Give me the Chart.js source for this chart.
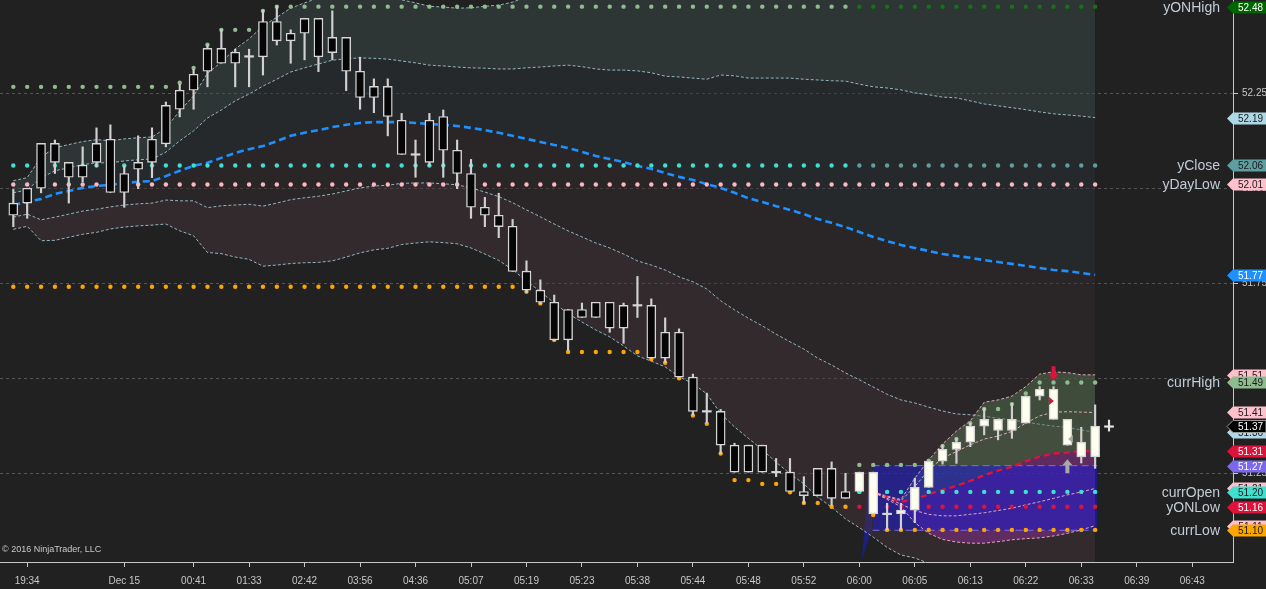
<!DOCTYPE html>
<html>
<head>
<meta charset="utf-8">
<script src="https://cdn.jsdelivr.net/npm/chart.js@4.4.1/dist/chart.umd.min.js"></script>
<style>
  html, body { margin: 0; padding: 0; background: #212121; }
  #wrap { width: 1266px; height: 589px; }
</style>
</head>
<body>
<div id="wrap"><canvas id="chartCL" width="1266" height="589"></canvas></div>
<script>
// --- axes ---
const xTickIdx = [1, 8, 13, 17, 21, 25, 29, 33, 37, 41, 45, 49, 53, 57, 61, 65, 69, 73, 77, 81, 85];
const xTickLbl = ['19:34', 'Dec 15', '00:41', '01:33', '02:42', '03:56', '04:36', '05:07', '05:19', '05:23',
  '05:38', '05:44', '05:48', '05:52', '06:00', '06:05', '06:13', '06:22', '06:33', '06:39', '06:43'];
const yTicks = [51.25, 51.50, 51.75, 52.00, 52.25];

// --- bars (one per index) ---
const barOpen = [51.929, 51.961, 52.000, 52.118, 52.068, 52.029, 52.068, 52.129, 51.989, 52.050,
  52.068, 52.117, 52.208, 52.258, 52.308, 52.368, 52.329, 52.347, 52.346, 52.439,
  52.388, 52.408, 52.447, 52.357, 52.397, 52.308, 52.239, 52.268, 52.179, 52.089,
  52.068, 52.189, 52.100, 52.039, 51.950, 51.929, 51.900, 51.782, 51.732, 51.700,
  51.601, 51.681, 51.660, 51.700, 51.632, 51.692, 51.692, 51.553, 51.621, 51.503,
  51.413, 51.413, 51.324, 51.253, 51.324, 51.253, 51.253, 51.202, 51.191, 51.263,
  51.184, 51.202, 51.253, 51.143, 51.143, 51.153, 51.213, 51.282, 51.313, 51.332,
  51.374, 51.392, 51.363, 51.382, 51.453, 51.471, 51.392, 51.293, 51.293];
const barHigh = [51.997, 52.000, 52.118, 52.127, 52.068, 52.109, 52.159, 52.167, 52.059, 52.138,
  52.159, 52.227, 52.274, 52.313, 52.377, 52.418, 52.366, 52.366, 52.469, 52.480,
  52.417, 52.447, 52.447, 52.467, 52.397, 52.345, 52.288, 52.288, 52.197, 52.127,
  52.197, 52.206, 52.127, 52.076, 51.976, 51.987, 51.918, 51.809, 51.759, 51.719,
  51.681, 51.698, 51.700, 51.700, 51.698, 51.768, 51.709, 51.659, 51.630, 51.511,
  51.461, 51.418, 51.329, 51.324, 51.324, 51.289, 51.289, 51.241, 51.263, 51.280,
  51.250, 51.253, 51.253, 51.171, 51.171, 51.237, 51.282, 51.324, 51.342, 51.382,
  51.421, 51.392, 51.434, 51.453, 51.478, 51.478, 51.392, 51.371, 51.430];
const barLow = [51.899, 51.921, 51.988, 52.039, 51.961, 52.017, 52.057, 51.989, 51.950, 51.999,
  52.028, 52.109, 52.188, 52.208, 52.267, 52.329, 52.267, 52.267, 52.298, 52.377,
  52.329, 52.338, 52.307, 52.338, 52.257, 52.208, 52.199, 52.138, 52.089, 52.029,
  52.059, 52.029, 51.999, 51.921, 51.899, 51.870, 51.781, 51.725, 51.696, 51.599,
  51.573, 51.660, 51.660, 51.621, 51.592, 51.660, 51.553, 51.542, 51.503, 51.403,
  51.382, 51.302, 51.253, 51.253, 51.253, 51.241, 51.202, 51.171, 51.191, 51.166,
  51.184, 51.202, 51.143, 51.101, 51.101, 51.120, 51.213, 51.274, 51.276, 51.320,
  51.351, 51.338, 51.342, 51.382, 51.443, 51.392, 51.324, 51.277, 51.263];
const barClose = [51.961, 52.000, 52.118, 52.068, 52.029, 52.061, 52.118, 51.989, 52.039, 52.068,
  52.129, 52.218, 52.258, 52.300, 52.368, 52.329, 52.358, 52.347, 52.439, 52.388,
  52.408, 52.447, 52.346, 52.397, 52.308, 52.239, 52.268, 52.189, 52.089, 52.089,
  52.179, 52.100, 52.039, 51.950, 51.929, 51.899, 51.781, 51.732, 51.700, 51.601,
  51.681, 51.660, 51.700, 51.632, 51.692, 51.692, 51.553, 51.621, 51.503, 51.413,
  51.413, 51.324, 51.253, 51.324, 51.253, 51.253, 51.202, 51.191, 51.263, 51.184,
  51.202, 51.253, 51.143, 51.143, 51.153, 51.213, 51.282, 51.313, 51.332, 51.374,
  51.392, 51.363, 51.392, 51.453, 51.471, 51.392, 51.324, 51.332, 51.374];
const sessionStart = 61;            // 06:00 bar, new session
const lastTick = { bar: 79, price: 51.373, hi: 51.390, lo: 51.361 };

// --- bollinger style bands ---
const bbUpper2 = [52.020, 52.028, 52.082, 52.107, 52.115, 52.123, 52.128, 52.125, 52.130, 52.133,
  52.135, 52.158, 52.204, 52.243, 52.303, 52.332, 52.367, 52.393, 52.427, 52.450,
  52.474, 52.488, 52.501, 52.513, 52.515, 52.514, 52.510, 52.506, 52.496, 52.488,
  52.479, 52.477, 52.474, 52.475, 52.479, 52.482, 52.490, 52.504, 52.516, 52.530,
  52.542, 52.544, 52.543, 52.545, 52.553, 52.559, 52.557, 52.550, 52.556, 52.558,
  52.563, 52.595, 52.604, 52.606, 52.616, 52.627, 52.637, 52.642, 52.651, 52.657,
  52.666, 52.663, 52.662, 52.667, 52.667, 52.659, 52.657, 52.653, 52.654, 52.643,
  52.633, 52.628, 52.623, 52.618, 52.612, 52.607, 52.604, 52.599, 52.600];
const bbUpper1 = [51.988, 51.996, 52.027, 52.046, 52.054, 52.062, 52.067, 52.067, 52.072, 52.075,
  52.077, 52.095, 52.125, 52.151, 52.185, 52.206, 52.230, 52.248, 52.269, 52.287,
  52.306, 52.317, 52.327, 52.337, 52.341, 52.343, 52.342, 52.340, 52.335, 52.330,
  52.324, 52.322, 52.319, 52.317, 52.316, 52.314, 52.314, 52.317, 52.319, 52.322,
  52.324, 52.320, 52.314, 52.311, 52.311, 52.309, 52.304, 52.295, 52.293, 52.290,
  52.287, 52.298, 52.296, 52.290, 52.290, 52.290, 52.290, 52.287, 52.285, 52.283,
  52.282, 52.274, 52.267, 52.264, 52.259, 52.251, 52.246, 52.240, 52.238, 52.230,
  52.222, 52.217, 52.212, 52.207, 52.201, 52.196, 52.193, 52.190, 52.186];
const bbMid = [51.956, 51.964, 51.972, 51.985, 51.993, 52.001, 52.006, 52.009, 52.014, 52.017,
  52.019, 52.032, 52.046, 52.059, 52.067, 52.080, 52.093, 52.103, 52.111, 52.124,
  52.138, 52.146, 52.153, 52.161, 52.167, 52.172, 52.174, 52.174, 52.174, 52.172,
  52.169, 52.167, 52.164, 52.159, 52.153, 52.146, 52.138, 52.130, 52.122, 52.114,
  52.106, 52.096, 52.085, 52.077, 52.069, 52.059, 52.051, 52.040, 52.030, 52.022,
  52.011, 52.001, 51.988, 51.974, 51.964, 51.953, 51.943, 51.932, 51.919, 51.909,
  51.898, 51.885, 51.872, 51.861, 51.851, 51.843, 51.835, 51.827, 51.822, 51.817,
  51.811, 51.806, 51.801, 51.796, 51.790, 51.785, 51.782, 51.777, 51.772];
const bbLower1 = [51.924, 51.932, 51.917, 51.924, 51.932, 51.940, 51.945, 51.951, 51.956, 51.959,
  51.961, 51.969, 51.967, 51.967, 51.949, 51.954, 51.956, 51.958, 51.953, 51.961,
  51.970, 51.975, 51.979, 51.985, 51.993, 52.001, 52.006, 52.008, 52.013, 52.014,
  52.014, 52.012, 52.009, 52.001, 51.990, 51.978, 51.962, 51.943, 51.925, 51.906,
  51.888, 51.872, 51.856, 51.843, 51.827, 51.809, 51.798, 51.785, 51.767, 51.754,
  51.735, 51.704, 51.680, 51.658, 51.638, 51.616, 51.596, 51.577, 51.553, 51.535,
  51.514, 51.496, 51.477, 51.458, 51.443, 51.435, 51.424, 51.414, 51.406, 51.404,
  51.400, 51.395, 51.390, 51.385, 51.379, 51.374, 51.371, 51.364, 51.358];
const bbLower2 = [51.892, 51.900, 51.862, 51.863, 51.871, 51.879, 51.884, 51.893, 51.898, 51.901,
  51.903, 51.906, 51.888, 51.875, 51.831, 51.828, 51.819, 51.813, 51.795, 51.798,
  51.802, 51.804, 51.805, 51.809, 51.819, 51.830, 51.838, 51.842, 51.852, 51.856,
  51.859, 51.857, 51.854, 51.843, 51.827, 51.810, 51.786, 51.756, 51.728, 51.698,
  51.670, 51.648, 51.627, 51.609, 51.585, 51.559, 51.545, 51.530, 51.504, 51.486,
  51.459, 51.407, 51.372, 51.342, 51.312, 51.279, 51.249, 51.222, 51.187, 51.161,
  51.130, 51.107, 51.082, 51.055, 51.035, 51.027, 51.013, 51.001, 50.990, 50.991,
  50.989, 50.984, 50.979, 50.974, 50.968, 50.963, 50.960, 50.955, 50.950];

// --- session bands (start at bar 62) ---
const devStart = 62;
const devUpper2 = [51.201, 51.190, 51.181, 51.237, 51.285, 51.327, 51.361, 51.388, 51.437, 51.443,
  51.453, 51.478, 51.511, 51.517, 51.515, 51.509, 51.509];
const devUpper1 = [51.201, 51.188, 51.178, 51.215, 51.259, 51.290, 51.307, 51.325, 51.340, 51.348,
  51.360, 51.382, 51.401, 51.411, 51.412, 51.411, 51.410];
const vwapLine = [51.201, 51.187, 51.175, 51.181, 51.195, 51.206, 51.217, 51.230, 51.245, 51.257,
  51.267, 51.282, 51.294, 51.302, 51.305, 51.308, 51.309];
const devLower1 = [51.201, 51.184, 51.169, 51.152, 51.142, 51.138, 51.138, 51.142, 51.146, 51.152,
  51.158, 51.167, 51.175, 51.184, 51.193, 51.201, 51.210];
const devLower2 = [51.201, 51.181, 51.162, 51.120, 51.092, 51.076, 51.069, 51.066, 51.066, 51.070,
  51.075, 51.078, 51.080, 51.085, 51.092, 51.101, 51.112];

// opening range box
const orHigh = 51.27, orLow = 51.10;
const orFrom = 61.95, orTo = 78.15;
const orWedge = [[61.17, 51.022], [61.69, 51.253], [61.91, 51.272], [61.91, 51.101]];

// --- level dots: [fromBar, toBar, price] ---
const runHighSteps = [[0, 11, 52.267], [12, 12, 52.278], [13, 13, 52.317], [14, 14, 52.378],
  [15, 17, 52.417], [18, 18, 52.467], [19, 60, 52.478]];
const yONHighSteps = [[61, 78, 52.478]];
const yCloseEarly = [[0, 60, 52.06]];
const yCloseLate = [[61, 78, 52.06]];
const yDayLowSteps = [[0, 78, 52.01]];
const runLowSteps = [[0, 36, 51.741], [37, 37, 51.728], [38, 38, 51.697], [39, 39, 51.601],
  [40, 45, 51.569], [46, 46, 51.550], [47, 47, 51.541], [48, 48, 51.500], [49, 49, 51.402],
  [50, 50, 51.380], [51, 51, 51.302], [52, 53, 51.232], [54, 55, 51.222], [56, 56, 51.200],
  [57, 58, 51.172], [59, 60, 51.162], [61, 61, 51.202], [62, 62, 51.140], [63, 78, 51.101]];
const currHighSteps = [[61, 65, 51.272], [66, 66, 51.283], [67, 67, 51.322], [68, 68, 51.340],
  [69, 69, 51.382], [70, 71, 51.419], [72, 72, 51.432], [73, 73, 51.460], [74, 78, 51.489]];
const currOpenSteps = [[61, 78, 51.201]];
const yONLowSteps = [[61, 78, 51.162]];

const levelNames = ['yONHigh', 'yClose', 'yDayLow', 'currHigh', 'currOpen', 'yONLow', 'currLow'];
const levelValues = [52.478, 52.06, 52.01, 51.489, 51.201, 51.162, 51.101];

// trade markers
const tradeMarks = [
  { bar: 75, price: 51.495, kind: 'down', color: '#dc143c' },
  { bar: 75, price: 51.440, kind: 'right', color: '#dc143c' },
  { bar: 76, price: 51.340, kind: 'left', color: '#a8a8a8' },
  { bar: 76, price: 51.287, kind: 'up', color: '#a8a8a8' }
];

// ---------------------------------------------------------------
function pts(start, arr) {
  return arr.map((v, k) => ({ x: start + k, y: v }));
}
function stepDots(steps) {
  const out = [];
  steps.forEach(([a, b, v]) => { for (let i = a; i <= b; i++) out.push({ x: i, y: v }); });
  return out;
}
function lineSet(data, color, width, dash, fill, bg) {
  return {
    type: 'line', data: data, borderColor: color, borderWidth: width, borderDash: dash || [],
    pointRadius: 0, tension: 0, fill: fill === undefined ? false : fill,
    backgroundColor: bg || 'transparent'
  };
}
function dotSet(steps, color) {
  return {
    type: 'line', data: stepDots(steps), showLine: false, pointRadius: 2.2, pointHoverRadius: 0,
    pointBackgroundColor: color, pointBorderWidth: 0, borderColor: color
  };
}

const bars = barOpen.map((_, i) => i);
const bodyIdx = bars.filter(i => barOpen[i] !== barClose[i]);
const dojiIdx = bars.filter(i => barOpen[i] === barClose[i]);

const lightBand = 'rgba(173,216,230,0.8)';
const pinkBand = 'rgba(240,180,200,0.9)';

const datasets = [
  // 0-3 band fills
  lineSet(pts(0, bbUpper2), 'transparent', 0, [], 5, 'rgba(59,73,73,0.5)'),
  lineSet(pts(0, bbUpper1), 'transparent', 0, [], 6, 'rgba(41,49,53,0.5)'),
  lineSet(pts(0, bbMid), 'transparent', 0, [], 7, 'rgba(51,41,45,0.5)'),
  lineSet(pts(0, bbLower1), 'transparent', 0, [], 8, 'rgba(69,51,59,0.5)'),
  // 4-8 band lines
  lineSet(pts(0, bbUpper2), lightBand, 1, [3, 2]),
  lineSet(pts(0, bbUpper1), lightBand, 1, [3, 2]),
  lineSet(pts(0, bbMid), '#1e90ff', 2.6, [7, 4]),
  lineSet(pts(0, bbLower1), lightBand, 1, [3, 2]),
  lineSet(pts(0, bbLower2), lightBand, 1, [3, 2]),
  // 9-10 session band fills
  lineSet(pts(devStart, devUpper2), 'transparent', 0, [], 14, 'rgba(84,113,79,0.5)'),
  lineSet(pts(devStart, vwapLine), 'transparent', 0, [], 16, 'rgba(140,45,150,0.5)'),
  // 11-12 opening range box
  lineSet([{ x: orFrom, y: orHigh }, { x: orTo, y: orHigh }], '#7b68ee', 1, [7, 4], 12, 'rgba(27,27,208,0.55)'),
  lineSet([{ x: orFrom, y: orLow }, { x: orTo, y: orLow }], '#7b68ee', 1, [7, 4]),
  // 13-17 session band lines
  lineSet(pts(devStart, devUpper2), pinkBand, 1, [3, 2]),
  lineSet(pts(devStart, vwapLine), '#dc143c', 2.4, [6, 4]),
  lineSet(pts(devStart, devUpper1), pinkBand, 1, [3, 2]),
  lineSet(pts(devStart, devLower2), pinkBand, 1, [3, 2]),
  lineSet(pts(devStart, devLower1), pinkBand, 1, [3, 2]),
  // level dots
  dotSet(runHighSteps, '#8fbc8f'),
  dotSet(yONHighSteps, '#147314'),
  dotSet(yCloseEarly, '#40e0d0'),
  dotSet(yCloseLate, '#5f9ea0'),
  dotSet(yDayLowSteps, '#ffb6c1'),
  dotSet(runLowSteps, '#ffa500'),
  dotSet(currHighSteps, '#8fbc8f'),
  dotSet(currOpenSteps, '#40e0d0'),
  dotSet(yONLowSteps, '#dc143c'),
  // candles
  {
    type: 'bar', grouped: false, barThickness: 1.5, backgroundColor: '#d0d0d0', borderWidth: 0,
    data: bars.map(i => ({ x: i, y: [barLow[i], barHigh[i]] }))
  },
  {
    type: 'bar', grouped: false, barThickness: 9, borderWidth: 1.4, borderColor: '#d6d6d6',
    borderSkipped: false,
    backgroundColor: bodyIdx.map(i => i >= sessionStart ? '#fffff0' : '#060606'),
    data: bodyIdx.map(i => ({ x: i, y: [Math.min(barOpen[i], barClose[i]), Math.max(barOpen[i], barClose[i])] }))
  },
  {
    type: 'bar', grouped: false, barThickness: 9, backgroundColor: '#d6d6d6', borderWidth: 0,
    data: dojiIdx.map(i => ({ x: i, y: [barOpen[i] - 0.002, barOpen[i] + 0.002] }))
  },
  {
    type: 'bar', grouped: false, barThickness: 1.5, backgroundColor: '#e6e6e6', borderWidth: 0,
    data: [{ x: lastTick.bar, y: [lastTick.lo, lastTick.hi] }]
  },
  {
    type: 'bar', grouped: false, barThickness: 9, backgroundColor: '#e6e6e6', borderWidth: 0,
    data: [{ x: lastTick.bar, y: [lastTick.price - 0.002, lastTick.price + 0.002] }]
  }
];
// first in list = bottom of the stack
datasets.forEach((d, i) => { d.order = datasets.length - i; });

const last = a => a[a.length - 1];
const flagList = [
  { v: last(devUpper2), bg: '#ffc0cb', fg: '#1a1a1a' },
  { v: last(devUpper1), bg: '#ffc0cb', fg: '#1a1a1a' },
  { v: last(devLower1), bg: '#ffc0cb', fg: '#1a1a1a' },
  { v: last(devLower2), bg: '#ffc0cb', fg: '#1a1a1a' },
  { v: last(bbLower1), bg: '#add8e6', fg: '#1a1a1a' },
  { v: last(bbUpper1), bg: '#add8e6', fg: '#1a1a1a' },
  { v: last(bbMid), bg: '#1e90ff', fg: '#ffffff' },
  { v: last(vwapLine), bg: '#dc143c', fg: '#ffffff' },
  { v: orHigh, bg: '#7b68ee', fg: '#ffffff' },
  { v: levelValues[0], bg: '#006400', fg: '#ffffff' },
  { v: levelValues[1], bg: '#5f9ea0', fg: '#1a1a1a' },
  { v: levelValues[2], bg: '#ffc0cb', fg: '#1a1a1a' },
  { v: levelValues[3], bg: '#8fbc8f', fg: '#1a1a1a' },
  { v: levelValues[4], bg: '#40e0d0', fg: '#1a1a1a' },
  { v: levelValues[5], bg: '#dc143c', fg: '#ffffff' },
  { v: levelValues[6], bg: '#ffa500', fg: '#1a1a1a' },
  { v: last(barClose), bg: '#000000', fg: '#ffffff', border: '#9a9a9a' }
];

const chartPlugin = {
  id: 'ntExtras',
  beforeDraw(chart) {
    const ctx = chart.ctx;
    ctx.save();
    ctx.fillStyle = '#212121';
    ctx.fillRect(0, 0, chart.width, chart.height);
    ctx.restore();
  },
  beforeDatasetsDraw(chart) {
    const { ctx, scales: { x, y } } = chart;
    ctx.save();
    ctx.fillStyle = '#1e1e7c';
    ctx.beginPath();
    orWedge.forEach(([bx, p], k) => {
      const px = x.getPixelForValue(bx), py = y.getPixelForValue(p);
      if (k === 0) ctx.moveTo(px, py); else ctx.lineTo(px, py);
    });
    ctx.closePath();
    ctx.fill();
    ctx.restore();
  },
  afterDatasetsDraw(chart) {
    const { ctx, scales: { x, y } } = chart;
    ctx.save();
    tradeMarks.forEach(m => {
      const cx = x.getPixelForValue(m.bar), py = y.getPixelForValue(m.price);
      ctx.fillStyle = m.color;
      ctx.beginPath();
      if (m.kind === 'down' || m.kind === 'up') {
        const d = m.kind === 'down' ? 1 : -1;
        ctx.moveTo(cx, py);
        ctx.lineTo(cx - 5, py - d * 6);
        ctx.lineTo(cx - 2, py - d * 6);
        ctx.lineTo(cx - 2, py - d * 14);
        ctx.lineTo(cx + 2, py - d * 14);
        ctx.lineTo(cx + 2, py - d * 6);
        ctx.lineTo(cx + 5, py - d * 6);
      } else if (m.kind === 'right') {
        ctx.moveTo(cx - 4.5, py - 4);
        ctx.lineTo(cx + 0.5, py);
        ctx.lineTo(cx - 4.5, py + 4);
      } else {
        ctx.moveTo(cx + 5.5, py - 4);
        ctx.lineTo(cx + 0.8, py);
        ctx.lineTo(cx + 5.5, py + 4);
      }
      ctx.closePath();
      ctx.fill();
    });
    ctx.restore();
  },
  afterDraw(chart) {
    const { ctx, scales: { y }, chartArea } = chart;
    ctx.save();
    // level names
    ctx.font = '14px Arial, "Liberation Sans", sans-serif';
    ctx.fillStyle = '#c3cbd6';
    ctx.textAlign = 'right';
    ctx.textBaseline = 'middle';
    levelNames.forEach((n, k) => ctx.fillText(n, 1220, y.getPixelForValue(levelValues[k]) + 1));
    // price flags on the axis
    const tip = chartArea.right - 6, x0 = chartArea.right, x1 = chart.width;
    flagList.forEach(f => {
      const py = Math.round(y.getPixelForValue(f.v)) + 0.5;
      ctx.beginPath();
      ctx.moveTo(tip, py);
      ctx.lineTo(x0, py - 6);
      ctx.lineTo(x1, py - 6);
      ctx.lineTo(x1, py + 6);
      ctx.lineTo(x0, py + 6);
      ctx.closePath();
      ctx.fillStyle = f.bg;
      ctx.fill();
      if (f.border) { ctx.strokeStyle = f.border; ctx.lineWidth = 1; ctx.stroke(); }
      ctx.fillStyle = f.fg;
      ctx.font = '10px Arial, "Liberation Sans", sans-serif';
      ctx.textAlign = 'center';
      ctx.fillText(f.v.toFixed(2), (x0 + x1) / 2 + 1, py + 0.5);
    });
    // copyright
    ctx.font = '9px Arial, "Liberation Sans", sans-serif';
    ctx.fillStyle = '#c8c8c8';
    ctx.textAlign = 'left';
    ctx.fillText('\u00a9 2016 NinjaTrader, LLC', 2, 550);
    ctx.restore();
  }
};

Chart.defaults.font.family = 'Arial, "Liberation Sans", sans-serif';

const chart = new Chart(document.getElementById('chartCL').getContext('2d'), {
  type: 'bar',
  data: { datasets: datasets },
  options: {
    responsive: false,
    devicePixelRatio: 1,
    animation: false,
    events: [],
    layout: { padding: 0, autoPadding: false },
    plugins: { legend: { display: false }, tooltip: { enabled: false } },
    scales: {
      x: {
        type: 'linear',
        offset: false,
        min: -0.959,
        max: 87.94,
        afterBuildTicks: s => { s.ticks = xTickIdx.map(v => ({ value: v })); },
        afterFit: s => { s.height = 27; s.paddingLeft = 0; s.paddingRight = 0; },
        ticks: {
          autoSkip: false, maxRotation: 0, padding: 8, color: '#c8c8c8',
          font: { size: 10 },
          callback: v => xTickLbl[xTickIdx.indexOf(v)]
        },
        grid: { drawOnChartArea: false, drawTicks: true, tickLength: 5, tickColor: '#c8c8c8', offset: false },
        border: { display: true, color: '#c8c8c8', width: 1 }
      },
      y: {
        type: 'linear',
        position: 'right',
        min: 51.0165,
        max: 52.4955,
        afterBuildTicks: s => { s.ticks = yTicks.map(v => ({ value: v })); },
        afterFit: s => { s.width = 33; s.paddingTop = 0; s.paddingBottom = 0; },
        ticks: {
          padding: 4, color: '#c8c8c8', font: { size: 10 },
          callback: v => v.toFixed(2)
        },
        grid: { color: '#555555', lineWidth: 1, tickLength: 5, tickColor: '#c8c8c8' },
        border: { display: true, color: '#c8c8c8', width: 1, dash: [3, 3] }
      }
    }
  },
  plugins: [chartPlugin]
});
</script>
</body>
</html>
